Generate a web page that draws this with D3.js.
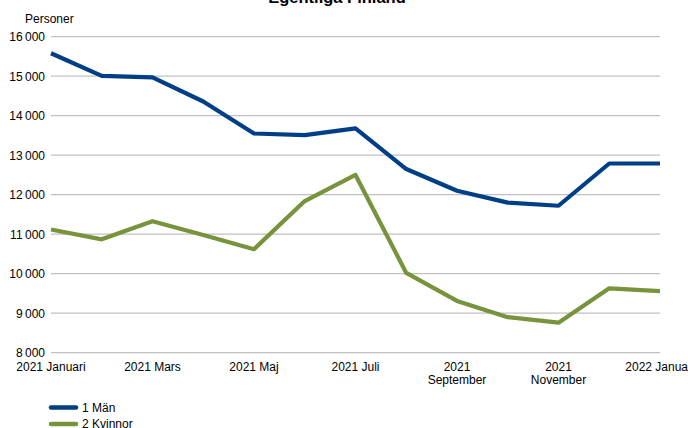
<!DOCTYPE html>
<html>
<head>
<meta charset="utf-8">
<script src="https://cdn.jsdelivr.net/npm/d3@7"></script>
<style>
body{margin:0;background:#fff;}
svg{display:block;font-family:"Liberation Sans",Arial,sans-serif;}
</style>
</head>
<body>
<svg id="chart" width="688" height="428"></svg>
<script>
// data
var months=["2021-01","2021-02","2021-03","2021-04","2021-05","2021-06","2021-07","2021-08","2021-09","2021-10","2021-11","2021-12","2022-01"];
var man=[15580,15010,14970,14360,13550,13510,13680,12650,12100,11800,11720,12790,12790];
var kvinnor=[11120,10870,11330,10980,10620,11840,12500,10020,9310,8900,8760,9630,9560];
var yTicks=[8000,9000,10000,11000,12000,13000,14000,15000,16000];
var xTickLabels={"2021-01":["2021 Januari"],"2021-03":["2021 Mars"],"2021-05":["2021 Maj"],"2021-07":["2021 Juli"],"2021-09":["2021","September"],"2021-11":["2021","November"],"2022-01":["2022 Januari"]};
var seriesNames=["1 Män","2 Kvinnor"];
var colors=["#003f87","#77933c"];

var svg=d3.select("#chart");
var plotLeft=51,plotRight=660,plotTop=36.7,plotBottom=352.7;

var x=d3.scalePoint().domain(months).range([plotLeft,plotRight]);
var y=d3.scaleLinear().domain([8000,16000]).range([plotBottom,plotTop]);
var fmt=function(v){return d3.format(",")(v).replace(/,/g,"\u2009");};

// title (partly cut off at the top)
svg.append("text").attr("x",337).attr("y",3).attr("text-anchor","middle")
	.attr("font-size",16.5).attr("font-weight","bold").attr("fill","#000").text("Egentliga Finland");

svg.append("text").attr("x",25).attr("y",23).attr("font-size",12).attr("fill","#000").text("Personer");

// grid
svg.append("g").selectAll("line").data(yTicks).enter().append("line")
	.attr("x1",plotLeft).attr("x2",plotRight)
	.attr("y1",function(d){return y(d);}).attr("y2",function(d){return y(d);})
	.attr("stroke","#c0c0c0").attr("stroke-width",1.3);

// y axis labels
var yAxis=d3.axisLeft(y).tickValues(yTicks).tickFormat(fmt).tickSize(0).tickPadding(0);
var gy=svg.append("g").attr("transform","translate(45,0)").call(yAxis);
gy.select(".domain").remove();
gy.selectAll("text").attr("font-size",12).attr("fill","#000").attr("font-family","Liberation Sans, Arial, sans-serif");

// x axis labels
var xt=svg.append("g").selectAll("text").data(Object.keys(xTickLabels)).enter().append("text")
	.attr("x",function(d){return x(d);}).attr("y",371)
	.attr("text-anchor","middle").attr("font-size",12).attr("fill","#000");
xt.selectAll("tspan").data(function(d){return xTickLabels[d];}).enter().append("tspan")
	.attr("x",function(){return x(d3.select(this.parentNode).datum());})
	.attr("dy",function(d,i){return i===0?0:12.5;})
	.text(function(d){return d;});

// lines
var line=d3.line().x(function(d,i){return x(months[i]);}).y(function(d){return y(d);});
[man,kvinnor].forEach(function(s,i){
	svg.append("path").datum(s).attr("d",line).attr("fill","none")
		.attr("stroke",colors[i]).attr("stroke-width",4.2).attr("stroke-linejoin","round");
});

// legend
var lg=svg.append("g").selectAll("g").data(seriesNames).enter().append("g")
	.attr("transform",function(d,i){return "translate(51,"+(407.5+i*16.5)+")";});
lg.append("line").attr("x1",0).attr("x2",25).attr("stroke",function(d,i){return colors[i];})
	.attr("stroke-width",4.5).attr("stroke-linecap","round");
lg.append("text").attr("x",31).attr("y",4).attr("font-size",12).attr("fill","#000").text(function(d){return d;});
</script>
</body>
</html>
